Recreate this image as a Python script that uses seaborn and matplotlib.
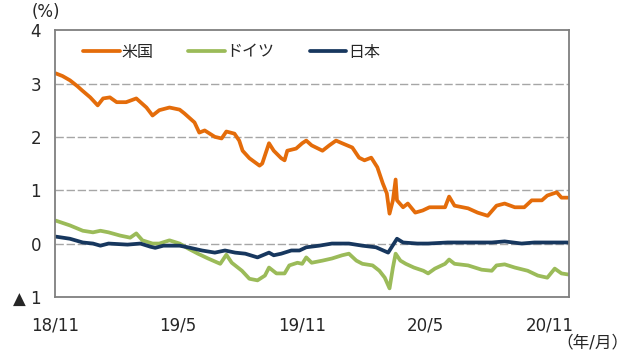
import pandas as pd
import matplotlib
matplotlib.use('Agg')
import matplotlib.pyplot as plt
import seaborn as sns

# 各国10年国債利回り (%) - 図から読み取り
us_dates = ['2018-11-02', '2018-11-12', '2018-11-23', '2018-12-04', '2018-12-11', '2018-12-23',
            '2019-01-03', '2019-01-11', '2019-01-21', '2019-01-31', '2019-02-14', '2019-03-01',
            '2019-03-16', '2019-03-25', '2019-04-04', '2019-04-19', '2019-05-04', '2019-05-11',
            '2019-05-26', '2019-06-02', '2019-06-10', '2019-06-25', '2019-07-05', '2019-07-12',
            '2019-07-24', '2019-07-31', '2019-08-05', '2019-08-15', '2019-08-30', '2019-09-03',
            '2019-09-13', '2019-09-20', '2019-10-01', '2019-10-06', '2019-10-10', '2019-10-23',
            '2019-11-01', '2019-11-07', '2019-11-15', '2019-12-01', '2019-12-11', '2019-12-21',
            '2019-12-30', '2020-01-14', '2020-01-24', '2020-02-01', '2020-02-11', '2020-02-20',
            '2020-02-28', '2020-03-05', '2020-03-09', '2020-03-14', '2020-03-18', '2020-03-20',
            '2020-03-29', '2020-04-05', '2020-04-16', '2020-04-27', '2020-05-07', '2020-05-15',
            '2020-05-30', '2020-06-05', '2020-06-13', '2020-07-03', '2020-07-17', '2020-08-01',
            '2020-08-14', '2020-08-26', '2020-09-10', '2020-09-24', '2020-10-05', '2020-10-20',
            '2020-10-28', '2020-11-11', '2020-11-18', '2020-11-27']
us_vals = [3.19, 3.14, 3.06, 2.95, 2.87, 2.74,
           2.59, 2.72, 2.74, 2.65, 2.65, 2.72,
           2.55, 2.40, 2.50, 2.55, 2.51, 2.44,
           2.27, 2.08, 2.12, 2.00, 1.97, 2.10,
           2.06, 1.93, 1.74, 1.60, 1.46, 1.50,
           1.88, 1.74, 1.60, 1.56, 1.74, 1.78,
           1.88, 1.93, 1.84, 1.74, 1.84, 1.93,
           1.88, 1.80, 1.61, 1.56, 1.61, 1.43,
           1.13, 0.94, 0.56, 0.81, 1.20, 0.81,
           0.68, 0.75, 0.58, 0.62, 0.68, 0.68,
           0.68, 0.88, 0.71, 0.66, 0.58, 0.52,
           0.71, 0.75, 0.68, 0.68, 0.81, 0.81,
           0.90, 0.96, 0.86, 0.86]

de_dates = ['2018-11-02', '2018-11-23', '2018-12-12', '2018-12-27', '2019-01-07', '2019-01-19',
            '2019-02-05', '2019-02-20', '2019-03-01', '2019-03-10', '2019-03-25', '2019-04-04',
            '2019-04-19', '2019-05-04', '2019-05-16', '2019-05-31', '2019-06-15', '2019-07-03',
            '2019-07-12', '2019-07-20', '2019-08-04', '2019-08-15', '2019-08-27', '2019-09-07',
            '2019-09-13', '2019-09-24', '2019-10-06', '2019-10-13', '2019-10-25', '2019-11-01',
            '2019-11-07', '2019-11-15', '2019-12-01', '2019-12-15', '2019-12-30', '2020-01-09',
            '2020-01-20', '2020-01-29', '2020-02-13', '2020-02-23', '2020-03-02', '2020-03-09',
            '2020-03-14', '2020-03-18', '2020-03-25', '2020-04-02', '2020-04-14', '2020-04-28',
            '2020-05-05', '2020-05-15', '2020-05-30', '2020-06-05', '2020-06-13', '2020-07-03',
            '2020-07-23', '2020-08-07', '2020-08-14', '2020-08-26', '2020-09-10', '2020-09-29',
            '2020-10-14', '2020-10-28', '2020-11-08', '2020-11-18', '2020-11-28']
de_vals = [0.43, 0.34, 0.24, 0.21, 0.24, 0.21,
           0.15, 0.11, 0.19, 0.06, 0.00, 0.00,
           0.06, 0.00, -0.09, -0.19, -0.28, -0.38,
           -0.21, -0.36, -0.51, -0.66, -0.69, -0.60,
           -0.45, -0.56, -0.56, -0.41, -0.36, -0.38,
           -0.26, -0.36, -0.32, -0.28, -0.22, -0.19,
           -0.32, -0.38, -0.41, -0.51, -0.64, -0.84,
           -0.45, -0.19, -0.32, -0.38, -0.45, -0.51,
           -0.56, -0.47, -0.38, -0.30, -0.38, -0.41,
           -0.49, -0.51, -0.41, -0.39, -0.45, -0.51,
           -0.60, -0.64, -0.47, -0.56, -0.58]

jp_dates = ['2018-11-02', '2018-11-23', '2018-12-12', '2018-12-27', '2019-01-07', '2019-01-19',
            '2019-02-16', '2019-03-07', '2019-03-22', '2019-03-29', '2019-04-10', '2019-05-04',
            '2019-05-16', '2019-06-06', '2019-06-25', '2019-07-10', '2019-07-25', '2019-08-09',
            '2019-08-27', '2019-09-13', '2019-09-20', '2019-10-01', '2019-10-16', '2019-10-28',
            '2019-11-07', '2019-11-26', '2019-12-15', '2020-01-09', '2020-01-29', '2020-02-18',
            '2020-03-07', '2020-03-20', '2020-03-29', '2020-04-19', '2020-05-05', '2020-06-03',
            '2020-07-03', '2020-08-07', '2020-08-26', '2020-09-20', '2020-10-09', '2020-11-27']
jp_vals = [0.13, 0.09, 0.02, 0.00, -0.04, 0.00,
           -0.02, 0.00, -0.06, -0.08, -0.04, -0.04,
           -0.07, -0.13, -0.17, -0.13, -0.17, -0.19,
           -0.26, -0.17, -0.22, -0.19, -0.13, -0.13,
           -0.07, -0.04, 0.00, 0.00, -0.04, -0.07,
           -0.17, 0.09, 0.02, 0.00, 0.00, 0.02,
           0.02, 0.02, 0.04, 0.00, 0.02, 0.02]

countries = ['米国', 'ドイツ', '日本']
colors = ['#E46C0A', '#9BBB59', '#17375E']
x_ticks = ['2018-11-01', '2019-05-01', '2019-11-01', '2020-05-01', '2020-11-01']
x_labels = ['18/11', '19/5', '19/11', '20/5', '20/11']
y_ticks = [-1, 0, 1, 2, 3, 4]
y_labels = ['▲ 1', '0', '1', '2', '3', '4']

df = pd.concat([
    pd.DataFrame({'date': pd.to_datetime(us_dates), 'value': us_vals, 'country': countries[0]}),
    pd.DataFrame({'date': pd.to_datetime(de_dates), 'value': de_vals, 'country': countries[1]}),
    pd.DataFrame({'date': pd.to_datetime(jp_dates), 'value': jp_vals, 'country': countries[2]}),
], ignore_index=True)

sns.set_style('white')
plt.rcParams['font.family'] = ['DejaVu Sans', 'Noto Sans CJK JP']

fig = plt.figure(figsize=(6.4, 3.59), dpi=100)
ax = fig.add_axes([0.086, 0.173, 0.803, 0.743])

sns.lineplot(data=df, x='date', y='value', hue='country', hue_order=countries,
             palette=colors, linewidth=2.7, ax=ax)

ax.set_xlim(pd.Timestamp('2018-11-01'), pd.Timestamp('2020-11-29'))
ax.set_ylim(-1, 4)
ax.set_yticks(y_ticks)
ax.set_yticklabels(y_labels, fontsize=12)
ax.set_xticks(pd.to_datetime(x_ticks))
ax.set_xticklabels(x_labels, fontsize=12)
ax.set_xlabel('')
ax.set_ylabel('')

for y in [0, 1, 2, 3]:
    ax.axhline(y, color='#A6A6A6', linewidth=1.0, linestyle=(0, (6, 2)), zorder=0)

for s in ax.spines.values():
    s.set_color('#7F7F7F')
    s.set_linewidth(1.3)

ax.tick_params(axis='x', direction='in', length=5, width=1, color='#595959', pad=14)
ax.tick_params(axis='y', length=0, pad=10)

ax.legend(loc='center left', bbox_to_anchor=(0.054, 0.918), ncol=3, frameon=False,
          fontsize=11.5, handlelength=2.3, handletextpad=0.1, columnspacing=2.2,
          borderpad=0, borderaxespad=0)

fig.text(0.05, 0.966, '(%)', fontsize=12, ha='left', va='center')
fig.text(0.982, 0.045, '（年/月）', fontsize=12, ha='right', va='center')

plt.savefig('out.png', dpi=100)
plt.close()
